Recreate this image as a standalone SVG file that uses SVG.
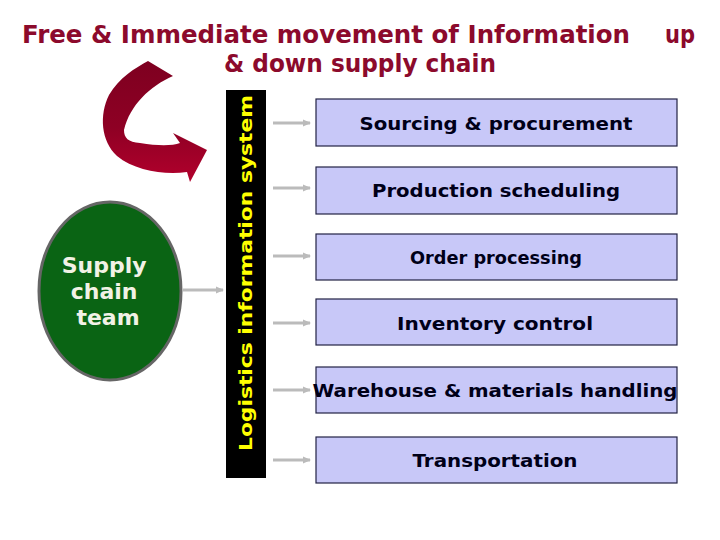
<svg xmlns="http://www.w3.org/2000/svg" width="720" height="540" viewBox="0 0 720 540">
<defs>
<linearGradient id="redg" x1="0" y1="0" x2="0" y2="1">
<stop offset="0" stop-color="#7E0020"/>
<stop offset="0.55" stop-color="#8E0024"/>
<stop offset="1" stop-color="#B2002C"/>
</linearGradient>
<marker id="ah" markerWidth="8" markerHeight="8" refX="7" refY="4" orient="auto" markerUnits="userSpaceOnUse">
<path d="M0,0.5 L8,4 L0,7.5 Z" fill="#BBBBBB"/>
</marker>
</defs>
<style>
.title{font-family:"DejaVu Sans","Liberation Sans",sans-serif;font-weight:bold;font-size:24px;fill:#8C0A2C}
.box{fill:#C8C8F8;stroke:#222244;stroke-width:1.2}
.bt{font-family:"DejaVu Sans","Liberation Sans",sans-serif;font-weight:bold;font-size:18px;fill:#000018;text-anchor:middle}
.conn line{stroke:#BBBBBB;stroke-width:3}
</style>
<rect width="720" height="540" fill="#FFFFFF"/>
<g id="title">
<text class="title" x="22" y="43" textLength="608" lengthAdjust="spacingAndGlyphs">Free &amp; Immediate movement of Information</text>
<text class="title" x="665" y="43" textLength="30" lengthAdjust="spacingAndGlyphs">up</text>
<text class="title" x="224" y="72" textLength="272" lengthAdjust="spacingAndGlyphs">&amp; down supply chain</text>
</g>
<g id="curved-arrow">
<path d="M148,61 L173,76 C150,86 130,105 124,130 C124,138 128,142 140,143 C158,146 172,146 180,143 L173,133 L207,150 L190,182 L187,172 C165,175 135,171 117,156 C101,141 99,115 109,95 C119,78 135,68 148,61 Z" fill="url(#redg)"/>
</g>
<g id="supply-chain-team">
<ellipse cx="110" cy="291" rx="71" ry="89" fill="#0A6414" stroke="#666666" stroke-width="3"/>
<text font-family="DejaVu Sans, Verdana, sans-serif" font-weight="bold" font-size="22" fill="#F2F2E6" text-anchor="middle">
<tspan x="108" y="273">Supply</tspan>
<tspan x="108" y="299">chain</tspan>
<tspan x="108" y="325">team</tspan>
</text>
</g>
<g id="lis">
<rect x="226" y="90" width="40" height="388" fill="#000000"/>
<text transform="translate(252,273) rotate(-90)" font-family="DejaVu Sans, Verdana, sans-serif" font-weight="bold" font-size="17" fill="#FFFF00" text-anchor="middle" textLength="356" lengthAdjust="spacingAndGlyphs">Logistics information system</text>
</g>
<g class="conn" id="connectors">
<line x1="183" y1="290" x2="223" y2="290" marker-end="url(#ah)"/>
<line x1="273" y1="123" x2="310" y2="123" marker-end="url(#ah)"/>
<line x1="273" y1="188" x2="310" y2="188" marker-end="url(#ah)"/>
<line x1="273" y1="256" x2="310" y2="256" marker-end="url(#ah)"/>
<line x1="273" y1="323" x2="310" y2="323" marker-end="url(#ah)"/>
<line x1="273" y1="390" x2="310" y2="390" marker-end="url(#ah)"/>
<line x1="273" y1="460" x2="310" y2="460" marker-end="url(#ah)"/>
</g>
<g id="sourcing">
<rect class="box" x="316" y="99" width="361" height="47"/>
<text class="bt" x="496" y="130" textLength="273" lengthAdjust="spacingAndGlyphs">Sourcing &amp; procurement</text>
</g>
<g id="production">
<rect class="box" x="316" y="167" width="361" height="47"/>
<text class="bt" x="496" y="197" textLength="248" lengthAdjust="spacingAndGlyphs">Production scheduling</text>
</g>
<g id="order">
<rect class="box" x="316" y="234" width="361" height="46"/>
<text class="bt" x="496" y="264" font-size="16" textLength="172" lengthAdjust="spacingAndGlyphs">Order processing</text>
</g>
<g id="inventory">
<rect class="box" x="316" y="299" width="361" height="46"/>
<text class="bt" x="495" y="330" textLength="196" lengthAdjust="spacingAndGlyphs">Inventory control</text>
</g>
<g id="warehouse">
<rect class="box" x="316" y="367" width="361" height="46"/>
<text class="bt" x="495" y="397" textLength="365" lengthAdjust="spacingAndGlyphs">Warehouse &amp; materials handling</text>
</g>
<g id="transportation">
<rect class="box" x="316" y="437" width="361" height="46"/>
<text class="bt" x="495" y="467" textLength="165" lengthAdjust="spacingAndGlyphs">Transportation</text>
</g>
</svg>
